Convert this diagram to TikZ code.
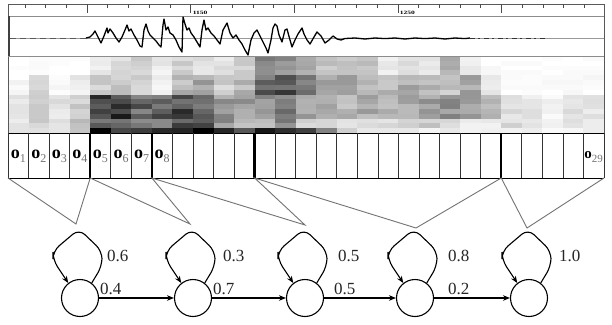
\documentclass[tikz,border=0pt]{standalone}
\usepackage{fontspec}
\setmainfont{Liberation Serif}
\usetikzlibrary{arrows.meta}
\begin{document}
\begin{tikzpicture}[x=1pt,y=-1pt,
  framel/.style={draw=black!65,line width=0.9pt},
  tickl/.style={draw=black!70,line width=0.8pt},
  cellthin/.style={draw=black!80,line width=0.8pt},
  cellthick/.style={draw=black,line width=2.4pt},
  fanl/.style={draw=black!55,line width=0.9pt},
  statec/.style={circle,draw=black,line width=1.1pt,minimum size=37pt,inner sep=0pt},
  loopst/.style={draw=black,line width=1.1pt,rounded corners=8pt,-{Stealth[length=7pt,width=5.5pt]}},
  trans/.style={draw=black,line width=1.1pt,-{Stealth[length=7pt,width=5.5pt]}},
  prob/.style={font=\fontsize{17}{17}\selectfont,text=black!85,inner sep=0pt,anchor=west},
  olab/.style={inner sep=0pt}
]
\def\cw{20.5517}
\useasboundingbox (0,0) rectangle (612,324);
\fill[white] (0,0) rectangle (612,324);

% ---------- spectrogram ----------
\pgfmathsetseed{23}
\foreach \A/\B/\C/\D/\E [count=\i from 0] in {
 0/3/10/12/8, 1/15/22/22/10, 0/3/12/12/8, 0/8/20/22/22,
 8/20/75/55/85, 15/22/78/55/75, 18/18/60/45/88, 8/6/65/55/92,
 18/28/70/75/92, 12/35/65/80/92, 12/18/40/45/85, 18/28/38/25/80,
 52/62/40/30/85, 42/68/55/45/88, 32/58/35/20/75, 22/38/32/15/60,
 22/38/28/12/15, 22/32/32/18/12, 8/28/32/12/8, 12/32/32/18/8,
 12/28/38/22/8, 28/22/42/18/8, 8/38/42/8/5, 2/8/28/8/5,
 1/2/12/15/8, 1/2/10/10/5, 1/2/5/5/3, 1/2/12/10/5, 1/2/10/8/5}{
  \pgfmathsetmacro\xa{8+\i*\cw}
  \pgfmathsetmacro\xb{8+(\i+1)*\cw+0.4}
  \foreach \r in {0,...,15}{
    \pgfmathsetmacro\base{\r<4 ? \A : (\r<8 ? \B : (\r<13 ? \C : (\r<15 ? \D : \E)))}
    \pgfmathtruncatemacro\v{max(0,min(100,\base+(rnd-0.5)*(4+0.4*\base)))}
    \pgfmathsetmacro\ya{56+\r*4.8125}
    \pgfmathsetmacro\yb{56+(\r+1)*4.8125+0.4}
    \fill[black!\v] (\xa,\ya) rectangle (\xb,\yb);
  }
}

% ---------- top frame, ticks ----------
\draw[framel] (8,178) -- (8,4) -- (604,4) -- (604,178);
\draw[draw=black!45,line width=0.8pt] (8,16) -- (604,16);
\draw[draw=black!45,line width=0.8pt] (8,56) -- (604,56);
\foreach \k in {0,...,27}{
  \pgfmathsetmacro\tx{25+\k*20.72}
  \draw[tickl] (\tx,4) -- (\tx,8);
}
\foreach \k in {3,8,13,18,23}{
  \pgfmathsetmacro\tx{25+\k*20.72}
  \draw[tickl] (\tx,4) -- (\tx,12.5);
}
\node[inner sep=0pt,anchor=west,font=\fontsize{5}{5}\selectfont\bfseries,xscale=1.5] (l1150) at (192.5,13) {1150};
\node[inner sep=0pt,anchor=west,font=\fontsize{5}{5}\selectfont\bfseries,xscale=1.5] (l1250) at (399.5,13) {1250};

% ---------- waveform ----------
\draw[draw=black!40,line width=0.8pt] (8,38) -- (604,38);
\draw[draw=black!75,line width=1.6pt] (9,16) -- (9,56);
\draw[draw=black!65,line width=1pt,dash pattern=on 6pt off 4pt] (10,38) -- (86,38);
\draw[black,line width=1.3pt,line join=round] plot coordinates {
(86,38) (90,37) (93,34) (95,31) (98,37) (101,43) (104,36) (107,28) (108,33) (110,29) (113,33)
(116,38) (119,42) (122,37) (125,30) (127,25) (129,31) (131,29) (134,35) (137,40) (140,46)
(142,47) (144,30) (146,24) (148,31) (150,35) (153,38) (156,41) (159,45) (161,47) (163,25)
(164,19) (166,30) (168,27) (170,33) (173,35) (176,40) (179,47) (182,52) (183,17) (185,24)
(187,30) (189,28) (191,33) (194,37) (197,42) (200,47) (202,30) (204,20) (206,30) (208,28)
(211,33) (214,36) (217,40) (220,44) (223,30) (227,23) (230,33) (233,38) (236,35) (239,40)
(242,44) (245,50) (248,55) (251,40) (254,33) (257,30) (260,36) (263,42) (266,48) (268,53)
(271,40) (273,28) (275,24) (277,26) (279,35) (282,42) (285,30) (287,29) (290,40) (292,47)
(295,40) (298,34) (302,28) (304,34) (307,40) (310,44) (314,37) (317,32) (321,36) (325,43)
(329,40) (333,36) (337,39) (341,40) (345,38.5) (355,38) (365,39) (375,38) (385,38.6) (395,38)
(405,39) (415,38) (425,38.6) (435,38) (445,39) (455,38) (465,38.6) (470,38)};
\draw[black!80,line width=1.1pt,dash pattern=on 5pt off 3pt on 2pt off 4pt] (470,38.3) -- (546,38.3);

% ---------- observation strip ----------
\draw[draw=black,line width=1pt] (8,133) -- (604,133);
\draw[draw=black,line width=1pt] (8,178) -- (604,178);
\foreach \k in {0,...,29}{
  \pgfmathsetmacro\bx{8+\k*\cw}
  \draw[cellthin] (\bx,133) -- (\bx,178);
}
\foreach \k in {4,7,12,24}{
  \pgfmathsetmacro\bx{8+\k*\cw}
  \draw[cellthick] (\bx,133) -- (\bx,178);
}
\foreach \k in {1,...,8}{
  \pgfmathsetmacro\ox{8+(\k-0.5)*\cw}
  \node[olab] (o\k) at (\ox,156) {{\fontsize{18}{18}\selectfont\bfseries o}{\fontsize{12}{12}\selectfont\color{black!55}\raisebox{-4pt}{\k}}};
}
\node[olab,anchor=east] (o29) at (603,157) {{\fontsize{15}{15}\selectfont\bfseries o}{\fontsize{11}{11}\selectfont\color{black!55}\raisebox{-4pt}{29}}};

% ---------- fan lines ----------
\coordinate (b0) at (8,178);
\coordinate (b4) at ({8+4*\cw},178);
\coordinate (b7) at ({8+7*\cw},178);
\coordinate (b12) at ({8+12*\cw},178);
\coordinate (b24) at ({8+24*\cw},178);
\coordinate (b29) at (604,178);
\coordinate (t1) at (76,224);
\coordinate (t2) at (190,224);
\coordinate (t3) at (305,225);
\coordinate (t4) at (416,228);
\coordinate (t5) at (527,228);
\draw[fanl] (b0) -- (t1) -- (b4) -- (t2) -- (b7) -- (t3) -- (b12) -- (t4) -- (b24) -- (t5) -- (b29);

% ---------- HMM states ----------
\node[statec] (s1) at (80,298) {};
\node[statec] (s2) at (193,298) {};
\node[statec] (s3) at (305,298) {};
\node[statec] (s4) at (415,298) {};
\node[statec] (s5) at (529,298) {};
\foreach \n/\cx in {s1/80,s2/193,s3/305,s4/415,s5/529}{
  \draw[loopst] (\n.52) -- (\cx+22,266) -- (\cx+22,251) -- (\cx-1,229) -- (\cx-27,251) -- (\cx-27,260) -- (\n.128);
}
\draw[trans] (s1) -- (s2);
\draw[trans] (s2) -- (s3);
\draw[trans] (s3) -- (s4);
\draw[trans] (s4) -- (s5);

\node[prob] (p11) at (107,256) {0.6};
\node[prob] (p22) at (223,256) {0.3};
\node[prob] (p33) at (338,256) {0.5};
\node[prob] (p44) at (448,256) {0.8};
\node[prob] (p55) at (559,256) {1.0};
\node[prob] (p12) at (100,289) {0.4};
\node[prob] (p23) at (213,289) {0.7};
\node[prob] (p34) at (334,289) {0.5};
\node[prob] (p45) at (448,289) {0.2};
\end{tikzpicture}
\end{document}
